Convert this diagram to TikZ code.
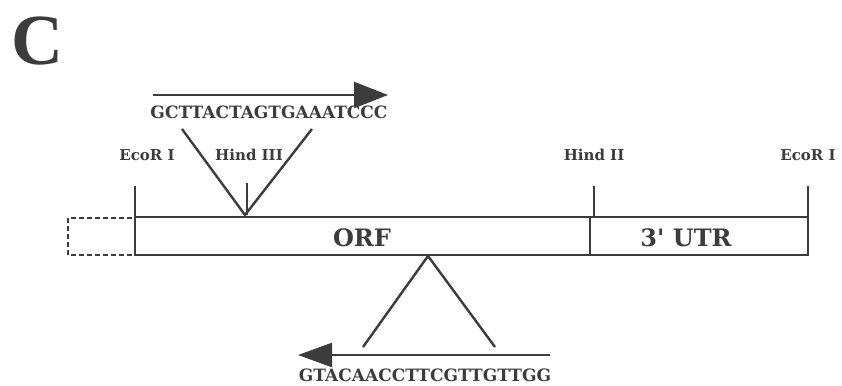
\documentclass[tikz,border=0pt]{standalone}
\usepackage{fontspec}
\setmainfont{DejaVu Serif}
\newfontfamily\bigC{Liberation Serif}
\usetikzlibrary{arrows.meta}
\definecolor{ink}{HTML}{3C3C3C}
\tikzset{
  line/.style={draw=ink, line width=2.4pt},
  thin/.style={draw=ink, line width=2pt},
  seq/.style={text=ink, font=\bfseries\fontsize{17}{17}\selectfont, inner sep=0pt},
  site/.style={text=ink, font=\bfseries\fontsize{15}{15}\selectfont, inner sep=0pt},
  region/.style={text=ink, font=\bfseries\fontsize{24}{24}\selectfont, inner sep=0pt},
}
\begin{document}
\begin{tikzpicture}[x=1pt,y=-1pt]
\useasboundingbox (0,0) rectangle (842,385);
% panel letter
\node[text=ink, font=\bigC\bfseries\fontsize{72}{72}\selectfont, inner sep=0pt, anchor=base west] (C) at (11,65) {C};
% coordinates
\coordinate (bl) at (135,217);
\coordinate (br) at (808,255);
\coordinate (div1) at (590,217);
\coordinate (div2) at (590,255);
% dashed box
\draw[ink, line width=1.8pt, dash pattern=on 5pt off 3pt] (68,218) rectangle (135,255);
% main box
\draw[line] (bl) rectangle (br);
\draw[line] (div1) -- (div2);
\node[region] (orf) at (362,238) {ORF};
\node[region] (utr) at (686,238) {3\textquotesingle{} UTR};
% site ticks
\coordinate (t1a) at (135,186); \coordinate (t1b) at (135,217);
\coordinate (t2a) at (247,183); \coordinate (t2b) at (247,215);
\coordinate (t3a) at (594,186); \coordinate (t3b) at (594,217);
\coordinate (t4a) at (808,186); \coordinate (t4b) at (808,217);
\draw[thin] (t1a) -- (t1b);
\draw[thin] (t2a) -- (t2b);
\draw[thin] (t3a) -- (t3b);
\draw[thin] (t4a) -- (t4b);
\node[site] (eco1) at (147,155) {EcoR I};
\node[site] (hind1) at (249,155) {Hind III};
\node[site] (hind2) at (594,155) {Hind II};
\node[site] (eco2) at (808,155) {EcoR I};
% top insertion V
\coordinate (apex1) at (245,215);
\coordinate (v1l) at (182,129);
\coordinate (v1r) at (312,129);
\draw[line] (v1l) -- (apex1) -- (v1r);
% top primer
\coordinate (a1s) at (153,95);
\coordinate (a1e) at (388,95);
\draw[line, -{Triangle[length=34pt,width=26pt]}] (a1s) -- (a1e);
\node[seq] (s1) at (269,112) {GCTTACTAGTGAAATCCC};
% bottom insertion V
\coordinate (apex2) at (428,256);
\coordinate (v2l) at (363,347);
\coordinate (v2r) at (495,347);
\draw[line] (v2l) -- (apex2) -- (v2r);
% bottom primer
\coordinate (a2s) at (550,355);
\coordinate (a2e) at (298,355);
\draw[line, -{Triangle[length=34pt,width=24pt]}] (a2s) -- (a2e);
\node[seq] (s2) at (425,375) {GTACAACCTTCGTTGTTGG};
\end{tikzpicture}
\end{document}
